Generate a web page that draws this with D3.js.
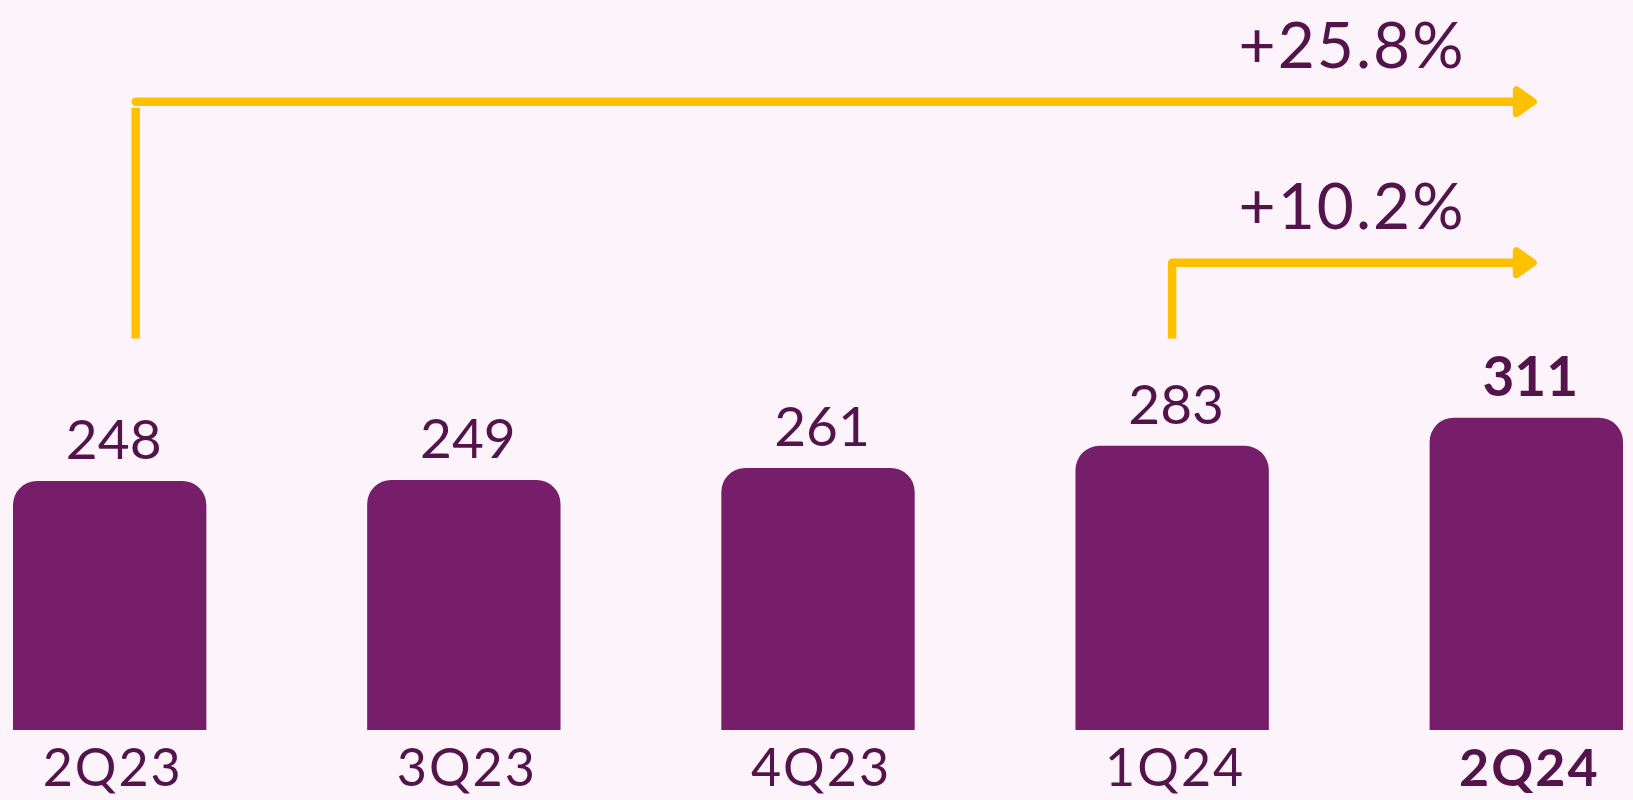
<!DOCTYPE html>
<html lang="en">
<head>
    <meta charset="UTF-8">
    <title>Quarterly growth</title>
    <script src="https://d3js.org/d3.v7.min.js"></script>
    <style>
        body {
            margin: 0;
            background: #fdf3fa;
            font-family: Lato, "Open Sans", sans-serif;
        }
    </style>
</head>
<body>
    <div class="chart"></div>

    <script>
        // Data
        const quarters = ["2Q23", "3Q23", "4Q23", "1Q24", "2Q24"];
        const values = [248, 249, 261, 283, 311];
        const highlight = ["2Q24"];

        // Growth arrows: start quarter -> end quarter
        const growthFrom = ["2Q23", "1Q24"];
        const growthTo = ["2Q24", "2Q24"];
        const growthLabels = ["+25.8%", "+10.2%"];

        const data = quarters.map((q, i) => ({ q, v: values[i] }));

        const width = 1633, height = 800;
        const barColor = "#771e6b";
        const textColor = "#52144a";
        const arrowColor = "#ffc000";

        const svg = d3.select(".chart")
            .append("svg")
            .attr("width", width)
            .attr("height", height);

        svg.append("rect")
            .attr("width", width)
            .attr("height", height)
            .attr("fill", "#fdf3fa");

        const x = d3.scaleBand()
            .domain(quarters)
            .range([13, 1623])
            .paddingInner(0.454)
            .paddingOuter(0);

        const y = d3.scaleLinear()
            .domain([0, 720])
            .range([730, 7]);

        const r = 24;
        // bar with rounded top corners only
        function barPath(d) {
            const x0 = x(d.q), x1 = x0 + x.bandwidth();
            const y0 = y(d.v), yb = y(0);
            return `M${x0},${yb} L${x0},${y0 + r} A${r},${r} 0 0 1 ${x0 + r},${y0}
                    L${x1 - r},${y0} A${r},${r} 0 0 1 ${x1},${y0 + r} L${x1},${yb} Z`;
        }

        svg.append("g")
            .selectAll("path")
            .data(data)
            .join("path")
            .attr("d", barPath)
            .attr("fill", barColor);

        // value labels
        svg.append("g")
            .selectAll("text")
            .data(data)
            .join("text")
            .attr("x", d => x(d.q) + x.bandwidth() / 2 + 4)
            .attr("y", d => y(d.v) - 22)
            .attr("text-anchor", "middle")
            .attr("font-size", 55)
            .attr("font-weight", d => highlight.includes(d.q) ? 700 : 400)
            .attr("fill", textColor)
            .text(d => d.v);

        // category labels
        const xAxis = svg.append("g")
            .attr("transform", "translate(0,730)")
            .call(d3.axisBottom(x).tickSize(0).tickPadding(0));
        xAxis.select(".domain").remove();
        xAxis.selectAll("text")
            .attr("y", 56)
            .attr("dy", 0)
            .attr("dx", 3)
            .attr("font-family", "Lato, sans-serif")
            .attr("font-size", 52)
            .attr("letter-spacing", 2)
            .attr("font-weight", d => highlight.includes(d) ? 700 : 400)
            .attr("fill", textColor);

        // growth arrows
        const arrowLineY = [101.7, 262.7];
        const arrowStartOffset = [26, 0];
        const arrowBottom = 338.6;
        const arrowGap = [6, 0];

        growthLabels.forEach((label, i) => {
            const sx = x(growthFrom[i]) + x.bandwidth() / 2 + arrowStartOffset[i];
            const ex = x(growthTo[i]) + x.bandwidth() / 2 - 10;
            const ly = arrowLineY[i];
            const g = svg.append("g");

            g.append("line")
                .attr("x1", sx).attr("x2", sx)
                .attr("y1", arrowBottom).attr("y2", ly + arrowGap[i])
                .attr("stroke", arrowColor)
                .attr("stroke-width", 8.5);

            g.append("line")
                .attr("x1", sx).attr("x2", ex + 4)
                .attr("y1", ly).attr("y2", ly)
                .attr("stroke", arrowColor)
                .attr("stroke-width", 8.5)
                .attr("stroke-linecap", "round");

            g.append("path")
                .attr("d", `M${ex},${ly - 12} L${ex},${ly + 12} L${ex + 17},${ly} Z`)
                .attr("fill", arrowColor)
                .attr("stroke", arrowColor)
                .attr("stroke-width", 7)
                .attr("stroke-linejoin", "round");

            g.append("text")
                .attr("x", 1352)
                .attr("y", ly - 33.5)
                .attr("text-anchor", "middle")
                .attr("font-size", 64)
                .attr("letter-spacing", 2)
                .attr("fill", textColor)
                .text(label);
        });
    </script>
</body>
</html>
